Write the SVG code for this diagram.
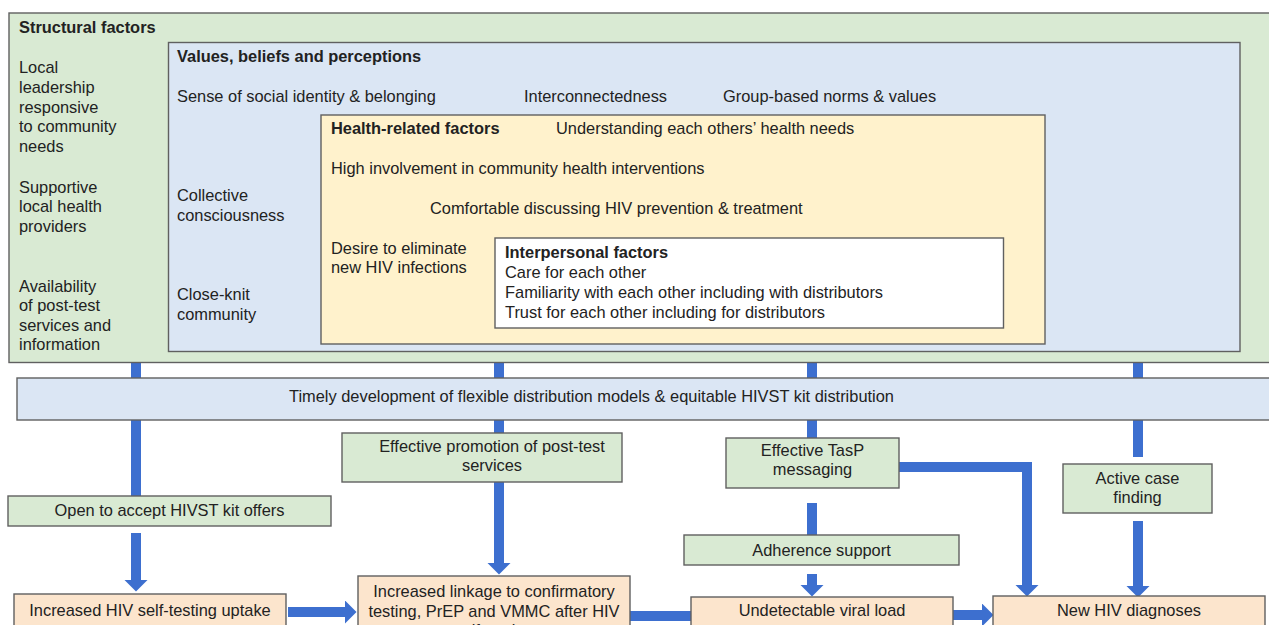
<svg xmlns="http://www.w3.org/2000/svg" width="1269" height="625" viewBox="0 0 1269 625">
<defs>
<marker id="ah" markerUnits="userSpaceOnUse" markerWidth="12" markerHeight="24" viewBox="0 0 12 24" refX="0.5" refY="12" orient="auto">
<path d="M0,0 L12,12 L0,24 z" fill="#3d6fcf"/>
</marker>
<style>
.bx{stroke:#606060;stroke-width:1.4}
.g{fill:#d9ead3}
.b{fill:#dbe6f4}
.y{fill:#fff2cc}
.w{fill:#ffffff}
.p{fill:#fce5cd}
text{font-family:"Liberation Sans",Arial,sans-serif;font-size:16.4px;fill:#222}
.h{font-weight:bold}
.c{text-anchor:middle}
.cn{fill:none;stroke:#3d6fcf;stroke-width:10}
</style>
</defs>
<rect width="1269" height="625" fill="#ffffff"/>
<g id="connectors">
<path class="cn" d="M136,362 V496"/>
<path class="cn" d="M136,533 V580" marker-end="url(#ah)"/>
<path class="cn" d="M499,362 V433"/>
<path class="cn" d="M499,482 V563" marker-end="url(#ah)"/>
<path class="cn" d="M812,362 V438"/>
<path class="cn" d="M812,503 V535"/>
<path class="cn" d="M812,574 V585" marker-end="url(#ah)"/>
<path class="cn" d="M1138,362 V457"/>
<path class="cn" d="M1138,521 V586" marker-end="url(#ah)"/>
<path class="cn" d="M899,467 H1027 V585" marker-end="url(#ah)"/>
<path class="cn" d="M288,612 H345" marker-end="url(#ah)"/>
<path class="cn" d="M630,616 H692"/>
<path class="cn" d="M953,615 H982" marker-end="url(#ah)"/>
</g>
<g id="structural">
<rect class="bx g" x="9" y="13" width="1262" height="349.5"/>
<text class="h" x="19" y="33">Structural factors</text>
<text x="19" y="73">Local</text>
<text x="19" y="93">leadership</text>
<text x="19" y="112.5">responsive</text>
<text x="19" y="132">to community</text>
<text x="19" y="151.5">needs</text>
<text x="19" y="192.5">Supportive</text>
<text x="19" y="212">local health</text>
<text x="19" y="231.5">providers</text>
<text x="19" y="291.5">Availability</text>
<text x="19" y="311">of post-test</text>
<text x="19" y="330.5">services and</text>
<text x="19" y="350">information</text>
</g>
<g id="values">
<rect class="bx b" x="168.5" y="42.5" width="1071.5" height="309"/>
<text class="h" x="177" y="62">Values, beliefs and perceptions</text>
<text x="177" y="101.5">Sense of social identity &amp; belonging</text>
<text x="524" y="101.5">Interconnectedness</text>
<text x="723" y="101.5">Group-based norms &amp; values</text>
<text x="177" y="201">Collective</text>
<text x="177" y="220.5">consciousness</text>
<text x="177" y="300">Close-knit</text>
<text x="177" y="319.5">community</text>
</g>
<g id="health">
<rect class="bx y" x="321" y="115" width="724" height="229"/>
<text class="h" x="331" y="133.5">Health-related factors</text>
<text x="556" y="133.5">Understanding each others’ health needs</text>
<text x="331" y="174">High involvement in community health interventions</text>
<text x="430" y="214">Comfortable discussing HIV prevention &amp; treatment</text>
<text x="331" y="253.5">Desire to eliminate</text>
<text x="331" y="273">new HIV infections</text>
</g>
<g id="interpersonal">
<rect class="bx w" x="495" y="238" width="508.5" height="90"/>
<text class="h" x="505" y="257.5">Interpersonal factors</text>
<text x="505" y="277.5">Care for each other</text>
<text x="505" y="297.5">Familiarity with each other including with distributors</text>
<text x="505" y="317.5">Trust for each other including for distributors</text>
</g>
<g id="timely">
<rect class="bx b" x="17" y="378" width="1256" height="42"/>
<text x="289" y="402">Timely development of flexible distribution models &amp; equitable HIVST kit distribution</text>
</g>
<g id="open-accept">
<rect class="bx g" x="8" y="496" width="323" height="30"/>
<text class="c" x="169.5" y="516">Open to accept HIVST kit offers</text>
</g>
<g id="promotion">
<rect class="bx g" x="342" y="433" width="280" height="49"/>
<text class="c" x="492" y="452">Effective promotion of post-test</text>
<text class="c" x="492" y="471">services</text>
</g>
<g id="tasp">
<rect class="bx g" x="726" y="438" width="173" height="50"/>
<text class="c" x="812.5" y="456">Effective TasP</text>
<text class="c" x="812.5" y="475">messaging</text>
</g>
<g id="active-case">
<rect class="bx g" x="1063" y="464" width="149" height="49"/>
<text class="c" x="1137.5" y="483.5">Active case</text>
<text class="c" x="1137.5" y="503">finding</text>
</g>
<g id="adherence">
<rect class="bx g" x="684" y="535" width="275" height="30"/>
<text class="c" x="821.5" y="555.5">Adherence support</text>
</g>
<g id="self-testing">
<rect class="bx p" x="14" y="594" width="272" height="50"/>
<text class="c" x="150" y="616">Increased HIV self-testing uptake</text>
</g>
<g id="linkage">
<rect class="bx p" x="358" y="576" width="272" height="80"/>
<text class="c" x="494" y="597">Increased linkage to confirmatory</text>
<text class="c" x="494" y="616.5">testing, PrEP and VMMC after HIV</text>
<text class="c" x="494" y="636">self-testing</text>
</g>
<g id="undetectable">
<rect class="bx p" x="691" y="597" width="262" height="50"/>
<text class="c" x="822" y="616">Undetectable viral load</text>
</g>
<g id="new-diagnoses">
<rect class="bx p" x="993" y="596" width="272" height="50"/>
<text class="c" x="1129" y="615.5">New HIV diagnoses</text>
</g>
</svg>
